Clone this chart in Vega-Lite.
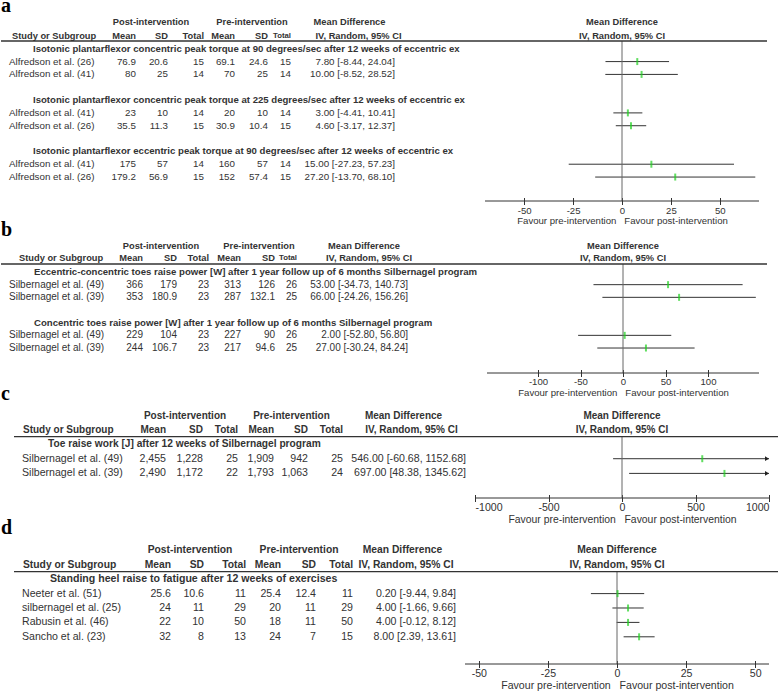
{
"$schema": "https://vega.github.io/schema/vega-lite/v6.json",
"padding": {"top": -4, "left": 0, "right": 0, "bottom": 0},
"background": "white",
"spacing": 0,
"bounds": "flush",
"datasets": {
"a": [
{"row":1,"study":"Alfredson et al. (26)","pm":76.9,"psd":20.6,"pt":15,"rm":69.1,"rsd":24.6,"rt":15,"md":7.8,"lo":-8.44,"hi":24.04,"ci":"7.80 [-8.44, 24.04]"},
{"row":2,"study":"Alfredson et al. (41)","pm":80,"psd":25,"pt":14,"rm":70,"rsd":25,"rt":14,"md":10,"lo":-8.52,"hi":28.52,"ci":"10.00 [-8.52, 28.52]"},
{"row":5,"study":"Alfredson et al. (41)","pm":23,"psd":10,"pt":14,"rm":20,"rsd":10,"rt":14,"md":3,"lo":-4.41,"hi":10.41,"ci":"3.00 [-4.41, 10.41]"},
{"row":6,"study":"Alfredson et al. (26)","pm":35.5,"psd":11.3,"pt":15,"rm":30.9,"rsd":10.4,"rt":15,"md":4.6,"lo":-3.17,"hi":12.37,"ci":"4.60 [-3.17, 12.37]"},
{"row":9,"study":"Alfredson et al. (41)","pm":175,"psd":57,"pt":14,"rm":160,"rsd":57,"rt":14,"md":15,"lo":-27.23,"hi":57.23,"ci":"15.00 [-27.23, 57.23]"},
{"row":10,"study":"Alfredson et al. (26)","pm":179.2,"psd":56.9,"pt":15,"rm":152,"rsd":57.4,"rt":15,"md":27.2,"lo":-13.7,"hi":68.1,"ci":"27.20 [-13.70, 68.10]"}
],
"a_sub": [
{"row":0,"title":"Isotonic plantarflexor concentric peak torque at 90 degrees/sec after 12 weeks of eccentric ex"},
{"row":4,"title":"Isotonic plantarflexor concentric peak torque at 225 degrees/sec after 12 weeks of eccentric ex"},
{"row":8,"title":"Isotonic plantarflexor eccentric peak torque at 90 degrees/sec after 12 weeks of eccentric ex"}
],
"b": [
{"row":1,"study":"Silbernagel et al. (49)","pm":366,"psd":179,"pt":23,"rm":313,"rsd":126,"rt":26,"md":53,"lo":-34.73,"hi":140.73,"ci":"53.00 [-34.73, 140.73]"},
{"row":2,"study":"Silbernagel et al. (39)","pm":353,"psd":180.9,"pt":23,"rm":287,"rsd":132.1,"rt":25,"md":66,"lo":-24.26,"hi":156.26,"ci":"66.00 [-24.26, 156.26]"},
{"row":5,"study":"Silbernagel et al. (49)","pm":229,"psd":104,"pt":23,"rm":227,"rsd":90,"rt":26,"md":2,"lo":-52.8,"hi":56.8,"ci":"2.00 [-52.80, 56.80]"},
{"row":6,"study":"Silbernagel et al. (39)","pm":244,"psd":106.7,"pt":23,"rm":217,"rsd":94.6,"rt":25,"md":27,"lo":-30.24,"hi":84.24,"ci":"27.00 [-30.24, 84.24]"}
],
"b_sub": [
{"row":0,"title":"Eccentric-concentric toes raise power [W] after 1 year follow up of 6 months Silbernagel program"},
{"row":4,"title":"Concentric toes raise power [W] after 1 year follow up of 6 months Silbernagel program"}
],
"c": [
{"row":1,"study":"Silbernagel et al. (49)","pm":2455,"psd":1228,"pt":25,"rm":1909,"rsd":942,"rt":25,"md":546,"lo":-60.68,"hi":1152.68,"ci":"546.00 [-60.68, 1152.68]"},
{"row":2,"study":"Silbernagel et al. (39)","pm":2490,"psd":1172,"pt":22,"rm":1793,"rsd":1063,"rt":24,"md":697,"lo":48.38,"hi":1345.62,"ci":"697.00 [48.38, 1345.62]"}
],
"c_sub": [
{"row":0,"title":"Toe raise work [J] after 12 weeks of Silbernagel program"}
],
"d": [
{"row":1,"study":"Neeter et al. (51)","pm":25.6,"psd":10.6,"pt":11,"rm":25.4,"rsd":12.4,"rt":11,"md":0.2,"lo":-9.44,"hi":9.84,"ci":"0.20 [-9.44, 9.84]"},
{"row":2,"study":"silbernagel et al. (25)","pm":24,"psd":11,"pt":29,"rm":20,"rsd":11,"rt":29,"md":4,"lo":-1.66,"hi":9.66,"ci":"4.00 [-1.66, 9.66]"},
{"row":3,"study":"Rabusin et al. (46)","pm":22,"psd":10,"pt":50,"rm":18,"rsd":11,"rt":50,"md":4,"lo":-0.12,"hi":8.12,"ci":"4.00 [-0.12, 8.12]"},
{"row":4,"study":"Sancho et al. (23)","pm":32,"psd":8,"pt":13,"rm":24,"rsd":7,"rt":15,"md":8,"lo":2.39,"hi":13.61,"ci":"8.00 [2.39, 13.61]"}
],
"d_sub": [
{"row":0,"title":"Standing heel raise to fatigue after 12 weeks of exercises"}
],
"colhdr": [
{"c":2,"t":"Mean"},{"c":3,"t":"SD"},{"c":4,"t":"Total"},{"c":5,"t":"Mean"},{"c":6,"t":"SD"},{"c":7,"t":"Total"}
]
},
"vconcat": [
{
"width": 778, "height": 201,
"data": {"name":"a"},
"resolve": {"scale":{"x":"independent"}},
"layer": [
{"layer": [
{"mark":{"type":"rule","color":"#333"},"encoding":{"x":{"field":"lo","type":"quantitative","scale":{"domain":[-70,70],"range":[484,758],"nice":false,"zero":false},"axis":{"orient":"bottom","values":[-50,-25,0,25,50],"labelExpr":"datum.value < 0 ? '-' + (-datum.value) : '' + datum.value","domain":false,"grid":false,"tickSize":7,"offset":-3.5,"tickColor":"#333","labelColor":"#333","titleColor":"#333","labelFont":"Liberation Sans","titleFont":"Liberation Sans","titleFontWeight":"normal","labelFontSize":9.6,"titleFontSize":9.6,"labelPadding":0.6,"titlePadding":1,"title":"Favour pre-intervention\u00a0\u00a0\u00a0Favour post-intervention"}},"x2":{"field":"hi"},"y":{"field":"row","type":"quantitative","scale":{"domain":[-3.8,11.867],"reverse":true,"nice":false,"zero":false},"axis":null}}},
{"data":{"values":[{}]},"mark":{"type":"rule","color":"#666"},"encoding":{"x":{"datum":0,"type":"quantitative"},"y":{"datum":-0.604,"type":"quantitative","axis":null},"y2":{"datum":11.867}}},
{"data":{"values":[{}]},"mark":{"type":"rule","color":"#333"},"encoding":{"x":{"datum":-70,"type":"quantitative"},"x2":{"datum":70},"y":{"datum":11.867,"type":"quantitative","axis":null}}},
{"mark":{"type":"tick","orient":"vertical","color":"#1fd01f","thickness":2,"size":7},"encoding":{"x":{"field":"md","type":"quantitative"},"y":{"field":"row","type":"quantitative","axis":null}}},
{"data":{"values":[{}]},"mark":{"type":"text","text":"Mean Difference","align":"center","fontSize":9.3,"fontWeight":"bold"},"encoding":{"x":{"datum":0,"type":"quantitative"},"y":{"datum":-2.085,"type":"quantitative","axis":null}}},
{"data":{"values":[{}]},"mark":{"type":"text","text":"IV, Random, 95% CI","align":"center","fontSize":9.3,"fontWeight":"bold"},"encoding":{"x":{"datum":0,"type":"quantitative"},"y":{"datum":-0.994,"type":"quantitative","axis":null}}}
]},
{"layer": [
{"data":{"values":[{}]},"mark":{"type":"rule","color":"#333","strokeWidth":1.3},"encoding":{"x":{"datum":0,"type":"quantitative","scale":{"domain":[0,1,2,3,4,5,6,7,8,9],"range":[0,8,135,167,203,234,267,290,394,766],"nice":false,"zero":false},"axis":null},"x2":{"datum":9},"y":{"datum":-0.604,"type":"quantitative","axis":null}}},
{"data":{"values":[{}]},"mark":{"type":"text","text":"a","align":"left","baseline":"alphabetic","font":"Liberation Serif","fontSize":20,"fontWeight":"bold","color":"#000"},"encoding":{"x":{"datum":0,"type":"quantitative","axis":null},"y":{"datum":-2.864,"type":"quantitative","axis":null}}},
{"data":{"values":[{}]},"mark":{"type":"text","text":"Post-intervention","align":"center","dx":-17,"fontSize":9.3,"fontWeight":"bold"},"encoding":{"x":{"datum":3,"type":"quantitative","axis":null},"y":{"datum":-2.085,"type":"quantitative","axis":null}}},
{"data":{"values":[{}]},"mark":{"type":"text","text":"Pre-intervention","align":"center","dx":-16,"fontSize":9.3,"fontWeight":"bold"},"encoding":{"x":{"datum":6,"type":"quantitative","axis":null},"y":{"datum":-2.085,"type":"quantitative","axis":null}}},
{"data":{"values":[{}]},"mark":{"type":"text","text":"Mean Difference","align":"center","dx":-45.5,"fontSize":9.3,"fontWeight":"bold"},"encoding":{"x":{"datum":8,"type":"quantitative","axis":null},"y":{"datum":-2.085,"type":"quantitative","axis":null}}},
{"data":{"values":[{}]},"mark":{"type":"text","text":"Study or Subgroup","align":"left","dx":3,"fontSize":9.3,"fontWeight":"bold"},"encoding":{"x":{"datum":1,"type":"quantitative","axis":null},"y":{"datum":-0.994,"type":"quantitative","axis":null}}},
{"data":{"name":"colhdr"},"transform":[{"filter":"datum.c != 7"}],"mark":{"type":"text","align":"right","fontSize":9.3,"fontWeight":"bold"},"encoding":{"x":{"field":"c","type":"quantitative","axis":null},"y":{"datum":-0.994,"type":"quantitative","axis":null},"text":{"field":"t"}}},
{"data":{"name":"colhdr"},"transform":[{"filter":"datum.c == 7"}],"mark":{"type":"text","align":"right","fontSize":7.8,"fontWeight":"bold"},"encoding":{"x":{"field":"c","type":"quantitative","axis":null},"y":{"datum":-0.994,"type":"quantitative","axis":null},"text":{"field":"t"}}},
{"data":{"values":[{}]},"mark":{"type":"text","text":"IV, Random, 95% CI","align":"center","dx":-36.5,"fontSize":9.3,"fontWeight":"bold"},"encoding":{"x":{"datum":8,"type":"quantitative","axis":null},"y":{"datum":-0.994,"type":"quantitative","axis":null}}},
{"data":{"name":"a_sub"},"mark":{"type":"text","align":"left","dx":24,"fontSize":9.6,"fontWeight":"bold"},"encoding":{"x":{"datum":1,"type":"quantitative","axis":null},"y":{"field":"row","type":"quantitative","axis":null},"text":{"field":"title"}}},
{"mark":{"type":"text","align":"left","fontSize":9.8},"encoding":{"x":{"datum":1,"type":"quantitative","axis":null},"y":{"field":"row","type":"quantitative","axis":null},"text":{"field":"study"}}},
{"mark":{"type":"text","align":"right","fontSize":9.8},"encoding":{"x":{"datum":2,"type":"quantitative","axis":null},"y":{"field":"row","type":"quantitative","axis":null},"text":{"field":"pm","type":"quantitative","format":",~f"}}},
{"mark":{"type":"text","align":"right","fontSize":9.8},"encoding":{"x":{"datum":3,"type":"quantitative","axis":null},"y":{"field":"row","type":"quantitative","axis":null},"text":{"field":"psd","type":"quantitative","format":",~f"}}},
{"mark":{"type":"text","align":"right","fontSize":9.8},"encoding":{"x":{"datum":4,"type":"quantitative","axis":null},"y":{"field":"row","type":"quantitative","axis":null},"text":{"field":"pt","type":"quantitative","format":",~f"}}},
{"mark":{"type":"text","align":"right","fontSize":9.8},"encoding":{"x":{"datum":5,"type":"quantitative","axis":null},"y":{"field":"row","type":"quantitative","axis":null},"text":{"field":"rm","type":"quantitative","format":",~f"}}},
{"mark":{"type":"text","align":"right","fontSize":9.8},"encoding":{"x":{"datum":6,"type":"quantitative","axis":null},"y":{"field":"row","type":"quantitative","axis":null},"text":{"field":"rsd","type":"quantitative","format":",~f"}}},
{"mark":{"type":"text","align":"right","fontSize":9.8},"encoding":{"x":{"datum":7,"type":"quantitative","axis":null},"y":{"field":"row","type":"quantitative","axis":null},"text":{"field":"rt","type":"quantitative","format":",~f"}}},
{"mark":{"type":"text","align":"right","fontSize":9.8},"encoding":{"x":{"datum":8,"type":"quantitative","axis":null},"y":{"field":"row","type":"quantitative","axis":null},"text":{"field":"ci"}}}
]}
]
},
{
"width": 778, "height": 172,
"data": {"name":"b"},
"resolve": {"scale":{"x":"independent"}},
"layer": [
{"layer": [
{"mark":{"type":"rule","color":"#333"},"encoding":{"x":{"field":"lo","type":"quantitative","scale":{"domain":[-160,160],"range":[486,758],"nice":false,"zero":false},"axis":{"orient":"bottom","values":[-100,-50,0,50,100],"labelExpr":"datum.value < 0 ? '-' + (-datum.value) : '' + datum.value","domain":false,"grid":false,"tickSize":7,"offset":-3.5,"tickColor":"#333","labelColor":"#333","titleColor":"#333","labelFont":"Liberation Sans","titleFont":"Liberation Sans","titleFontWeight":"normal","labelFontSize":9.6,"titleFontSize":9.6,"labelPadding":0.4,"titlePadding":1,"title":"Favour pre-intervention\u00a0\u00a0\u00a0Favour post-intervention"}},"x2":{"field":"hi"},"y":{"field":"row","type":"quantitative","scale":{"domain":[-5.604,7.972],"reverse":true,"nice":false,"zero":false},"axis":null}}},
{"data":{"values":[{}]},"mark":{"type":"rule","color":"#666"},"encoding":{"x":{"datum":0,"type":"quantitative"},"y":{"datum":-0.631,"type":"quantitative","axis":null},"y2":{"datum":7.972}}},
{"data":{"values":[{}]},"mark":{"type":"rule","color":"#333"},"encoding":{"x":{"datum":-160,"type":"quantitative"},"x2":{"datum":160},"y":{"datum":7.972,"type":"quantitative","axis":null}}},
{"mark":{"type":"tick","orient":"vertical","color":"#1fd01f","thickness":2,"size":7},"encoding":{"x":{"field":"md","type":"quantitative"},"y":{"field":"row","type":"quantitative","axis":null}}},
{"data":{"values":[{}]},"mark":{"type":"text","text":"Mean Difference","align":"center","fontSize":9.3,"fontWeight":"bold"},"encoding":{"x":{"datum":0,"type":"quantitative"},"y":{"datum":-2.076,"type":"quantitative","axis":null}}},
{"data":{"values":[{}]},"mark":{"type":"text","text":"IV, Random, 95% CI","align":"center","fontSize":9.3,"fontWeight":"bold"},"encoding":{"x":{"datum":0,"type":"quantitative"},"y":{"datum":-1.081,"type":"quantitative","axis":null}}}
]},
{"layer": [
{"data":{"values":[{}]},"mark":{"type":"rule","color":"#333","strokeWidth":1.3},"encoding":{"x":{"datum":0,"type":"quantitative","scale":{"domain":[0,1,2,3,4,5,6,7,8,9],"range":[0,8,142,176,208,240,274,296,407,766],"nice":false,"zero":false},"axis":null},"x2":{"datum":9},"y":{"datum":-0.631,"type":"quantitative","axis":null}}},
{"data":{"values":[{}]},"mark":{"type":"text","text":"b","align":"left","baseline":"alphabetic","font":"Liberation Serif","fontSize":20,"fontWeight":"bold","color":"#000"},"encoding":{"x":{"datum":0,"type":"quantitative","axis":null},"y":{"datum":-2.841,"type":"quantitative","axis":null}}},
{"data":{"values":[{}]},"mark":{"type":"text","text":"Post-intervention","align":"center","dx":-16,"fontSize":9.3,"fontWeight":"bold"},"encoding":{"x":{"datum":3,"type":"quantitative","axis":null},"y":{"datum":-2.076,"type":"quantitative","axis":null}}},
{"data":{"values":[{}]},"mark":{"type":"text","text":"Pre-intervention","align":"center","dx":-16,"fontSize":9.3,"fontWeight":"bold"},"encoding":{"x":{"datum":6,"type":"quantitative","axis":null},"y":{"datum":-2.076,"type":"quantitative","axis":null}}},
{"data":{"values":[{}]},"mark":{"type":"text","text":"Mean Difference","align":"center","dx":-44,"fontSize":9.3,"fontWeight":"bold"},"encoding":{"x":{"datum":8,"type":"quantitative","axis":null},"y":{"datum":-2.076,"type":"quantitative","axis":null}}},
{"data":{"values":[{}]},"mark":{"type":"text","text":"Study or Subgroup","align":"left","dx":10,"fontSize":9.3,"fontWeight":"bold"},"encoding":{"x":{"datum":1,"type":"quantitative","axis":null},"y":{"datum":-1.081,"type":"quantitative","axis":null}}},
{"data":{"name":"colhdr"},"transform":[{"filter":"datum.c != 7"}],"mark":{"type":"text","align":"right","fontSize":9.3,"fontWeight":"bold"},"encoding":{"x":{"field":"c","type":"quantitative","axis":null},"y":{"datum":-1.081,"type":"quantitative","axis":null},"text":{"field":"t"}}},
{"data":{"name":"colhdr"},"transform":[{"filter":"datum.c == 7"}],"mark":{"type":"text","align":"right","fontSize":7.8,"fontWeight":"bold"},"encoding":{"x":{"field":"c","type":"quantitative","axis":null},"y":{"datum":-1.081,"type":"quantitative","axis":null},"text":{"field":"t"}}},
{"data":{"values":[{}]},"mark":{"type":"text","text":"IV, Random, 95% CI","align":"center","dx":-39,"fontSize":9.3,"fontWeight":"bold"},"encoding":{"x":{"datum":8,"type":"quantitative","axis":null},"y":{"datum":-1.081,"type":"quantitative","axis":null}}},
{"data":{"name":"b_sub"},"mark":{"type":"text","align":"left","dx":25,"fontSize":9.6,"fontWeight":"bold"},"encoding":{"x":{"datum":1,"type":"quantitative","axis":null},"y":{"field":"row","type":"quantitative","axis":null},"text":{"field":"title"}}},
{"mark":{"type":"text","align":"left","fontSize":10},"encoding":{"x":{"datum":1,"type":"quantitative","axis":null},"y":{"field":"row","type":"quantitative","axis":null},"text":{"field":"study"}}},
{"mark":{"type":"text","align":"right","fontSize":10},"encoding":{"x":{"datum":2,"type":"quantitative","axis":null},"y":{"field":"row","type":"quantitative","axis":null},"text":{"field":"pm","type":"quantitative","format":",~f"}}},
{"mark":{"type":"text","align":"right","fontSize":10},"encoding":{"x":{"datum":3,"type":"quantitative","axis":null},"y":{"field":"row","type":"quantitative","axis":null},"text":{"field":"psd","type":"quantitative","format":",~f"}}},
{"mark":{"type":"text","align":"right","fontSize":10},"encoding":{"x":{"datum":4,"type":"quantitative","axis":null},"y":{"field":"row","type":"quantitative","axis":null},"text":{"field":"pt","type":"quantitative","format":",~f"}}},
{"mark":{"type":"text","align":"right","fontSize":10},"encoding":{"x":{"datum":5,"type":"quantitative","axis":null},"y":{"field":"row","type":"quantitative","axis":null},"text":{"field":"rm","type":"quantitative","format":",~f"}}},
{"mark":{"type":"text","align":"right","fontSize":10},"encoding":{"x":{"datum":6,"type":"quantitative","axis":null},"y":{"field":"row","type":"quantitative","axis":null},"text":{"field":"rsd","type":"quantitative","format":",~f"}}},
{"mark":{"type":"text","align":"right","fontSize":10},"encoding":{"x":{"datum":7,"type":"quantitative","axis":null},"y":{"field":"row","type":"quantitative","axis":null},"text":{"field":"rt","type":"quantitative","format":",~f"}}},
{"mark":{"type":"text","align":"right","fontSize":10},"encoding":{"x":{"datum":8,"type":"quantitative","axis":null},"y":{"field":"row","type":"quantitative","axis":null},"text":{"field":"ci"}}}
]}
]
},
{
"width": 778, "height": 125,
"data": {"name":"c"},
"resolve": {"scale":{"x":"independent"}},
"layer": [
{"layer": [
{"mark":{"type":"rule","color":"#333"},"encoding":{"x":{"field":"lo","type":"quantitative","scale":{"domain":[-1000,1000],"range":[474,768],"nice":false,"zero":false,"clamp":true},"axis":{"orient":"bottom","values":[-1000,-500,0,500,1000],"labelExpr":"datum.value < 0 ? '-' + (-datum.value) : '' + datum.value","domain":false,"grid":false,"tickSize":7,"offset":-3.5,"tickColor":"#333","labelColor":"#333","titleColor":"#333","labelFont":"Liberation Sans","titleFont":"Liberation Sans","titleFontWeight":"normal","labelFontSize":10.6,"titleFontSize":10.4,"labelPadding":0.9,"titlePadding":1,"title":"Favour pre-intervention\u00a0\u00a0\u00a0Favour post-intervention"}},"x2":{"field":"hi"},"y":{"field":"row","type":"quantitative","scale":{"domain":[-4.83,3.673],"reverse":true,"nice":false,"zero":false},"axis":null}}},
{"data":{"values":[{}]},"mark":{"type":"rule","color":"#666"},"encoding":{"x":{"datum":0,"type":"quantitative"},"y":{"datum":-0.497,"type":"quantitative","axis":null},"y2":{"datum":3.673}}},
{"data":{"values":[{}]},"mark":{"type":"rule","color":"#333"},"encoding":{"x":{"datum":-1000,"type":"quantitative"},"x2":{"datum":1000},"y":{"datum":3.673,"type":"quantitative","axis":null}}},
{"transform":[{"filter":"datum.hi > 1000"}],"mark":{"type":"point","shape":"M-1,-0.6L0,0L-1,0.6Z","filled":true,"color":"#222","opacity":1,"size":64},"encoding":{"x":{"field":"hi","type":"quantitative"},"y":{"field":"row","type":"quantitative","axis":null}}},
{"mark":{"type":"tick","orient":"vertical","color":"#1fd01f","thickness":2,"size":7},"encoding":{"x":{"field":"md","type":"quantitative"},"y":{"field":"row","type":"quantitative","axis":null}}},
{"data":{"values":[{}]},"mark":{"type":"text","text":"Mean Difference","align":"center","fontSize":10,"fontWeight":"bold"},"encoding":{"x":{"datum":0,"type":"quantitative"},"y":{"datum":-1.905,"type":"quantitative","axis":null}}},
{"data":{"values":[{}]},"mark":{"type":"text","text":"IV, Random, 95% CI","align":"center","fontSize":10,"fontWeight":"bold"},"encoding":{"x":{"datum":0,"type":"quantitative"},"y":{"datum":-0.952,"type":"quantitative","axis":null}}}
]},
{"layer": [
{"data":{"values":[{}]},"mark":{"type":"rule","color":"#333","strokeWidth":1.3},"encoding":{"x":{"datum":0,"type":"quantitative","scale":{"domain":[0,1,2,3,4,5,6,7,8,9],"range":[13,21,165,202,237,273,307,342,465,778],"nice":false,"zero":false},"axis":null},"x2":{"datum":9},"y":{"datum":-0.497,"type":"quantitative","axis":null}}},
{"data":{"values":[{}]},"mark":{"type":"text","text":"c","align":"left","dx":-13,"baseline":"alphabetic","font":"Liberation Serif","fontSize":20,"fontWeight":"bold","color":"#000"},"encoding":{"x":{"datum":0,"type":"quantitative","axis":null},"y":{"datum":-2.993,"type":"quantitative","axis":null}}},
{"data":{"values":[{}]},"mark":{"type":"text","text":"Post-intervention","align":"center","dx":-18,"fontSize":10,"fontWeight":"bold"},"encoding":{"x":{"datum":3,"type":"quantitative","axis":null},"y":{"datum":-1.905,"type":"quantitative","axis":null}}},
{"data":{"values":[{}]},"mark":{"type":"text","text":"Pre-intervention","align":"center","dx":-16.5,"fontSize":10,"fontWeight":"bold"},"encoding":{"x":{"datum":6,"type":"quantitative","axis":null},"y":{"datum":-1.905,"type":"quantitative","axis":null}}},
{"data":{"values":[{}]},"mark":{"type":"text","text":"Mean Difference","align":"center","dx":-62.5,"fontSize":10,"fontWeight":"bold"},"encoding":{"x":{"datum":8,"type":"quantitative","axis":null},"y":{"datum":-1.905,"type":"quantitative","axis":null}}},
{"data":{"values":[{}]},"mark":{"type":"text","text":"Study or Subgroup","align":"left","dx":1,"fontSize":10,"fontWeight":"bold"},"encoding":{"x":{"datum":1,"type":"quantitative","axis":null},"y":{"datum":-0.952,"type":"quantitative","axis":null}}},
{"data":{"name":"colhdr"},"mark":{"type":"text","align":"right","fontSize":10,"fontWeight":"bold"},"encoding":{"x":{"field":"c","type":"quantitative","axis":null},"y":{"datum":-0.952,"type":"quantitative","axis":null},"text":{"field":"t"}}},
{"data":{"values":[{}]},"mark":{"type":"text","text":"IV, Random, 95% CI","align":"center","dx":-54.5,"fontSize":10,"fontWeight":"bold"},"encoding":{"x":{"datum":8,"type":"quantitative","axis":null},"y":{"datum":-0.952,"type":"quantitative","axis":null}}},
{"data":{"name":"c_sub"},"mark":{"type":"text","align":"left","dx":26,"fontSize":10.2,"fontWeight":"bold"},"encoding":{"x":{"datum":1,"type":"quantitative","axis":null},"y":{"field":"row","type":"quantitative","axis":null},"text":{"field":"title"}}},
{"mark":{"type":"text","align":"left","fontSize":10.6},"encoding":{"x":{"datum":1,"type":"quantitative","axis":null},"y":{"field":"row","type":"quantitative","axis":null},"text":{"field":"study"}}},
{"mark":{"type":"text","align":"right","fontSize":10.6},"encoding":{"x":{"datum":2,"type":"quantitative","axis":null},"y":{"field":"row","type":"quantitative","axis":null},"text":{"field":"pm","type":"quantitative","format":",~f"}}},
{"mark":{"type":"text","align":"right","fontSize":10.6},"encoding":{"x":{"datum":3,"type":"quantitative","axis":null},"y":{"field":"row","type":"quantitative","axis":null},"text":{"field":"psd","type":"quantitative","format":",~f"}}},
{"mark":{"type":"text","align":"right","fontSize":10.6},"encoding":{"x":{"datum":4,"type":"quantitative","axis":null},"y":{"field":"row","type":"quantitative","axis":null},"text":{"field":"pt","type":"quantitative","format":",~f"}}},
{"mark":{"type":"text","align":"right","fontSize":10.6},"encoding":{"x":{"datum":5,"type":"quantitative","axis":null},"y":{"field":"row","type":"quantitative","axis":null},"text":{"field":"rm","type":"quantitative","format":",~f"}}},
{"mark":{"type":"text","align":"right","fontSize":10.6},"encoding":{"x":{"datum":6,"type":"quantitative","axis":null},"y":{"field":"row","type":"quantitative","axis":null},"text":{"field":"rsd","type":"quantitative","format":",~f"}}},
{"mark":{"type":"text","align":"right","fontSize":10.6},"encoding":{"x":{"datum":7,"type":"quantitative","axis":null},"y":{"field":"row","type":"quantitative","axis":null},"text":{"field":"rt","type":"quantitative","format":",~f"}}},
{"mark":{"type":"text","align":"right","fontSize":10.6},"encoding":{"x":{"datum":8,"type":"quantitative","axis":null},"y":{"field":"row","type":"quantitative","axis":null},"text":{"field":"ci"}}}
]}
]
},
{
"width": 778, "height": 166,
"data": {"name":"d"},
"resolve": {"scale":{"x":"independent"}},
"layer": [
{"layer": [
{"mark":{"type":"rule","color":"#333"},"encoding":{"x":{"field":"lo","type":"quantitative","scale":{"domain":[-55,55],"range":[464,768],"nice":false,"zero":false},"axis":{"orient":"bottom","values":[-50,-25,0,25,50],"labelExpr":"datum.value < 0 ? '-' + (-datum.value) : '' + datum.value","domain":false,"grid":false,"tickSize":7,"offset":-3.5,"tickColor":"#333","labelColor":"#333","titleColor":"#333","labelFont":"Liberation Sans","titleFont":"Liberation Sans","titleFontWeight":"normal","labelFontSize":10.6,"titleFontSize":10.6,"labelPadding":0.9,"titlePadding":1.8,"title":"Favour pre-intervention\u00a0\u00a0\u00a0Favour post-intervention"}},"x2":{"field":"hi"},"y":{"field":"row","type":"quantitative","scale":{"domain":[-5.639,5.889],"reverse":true,"nice":false,"zero":false},"axis":null}}},
{"data":{"values":[{}]},"mark":{"type":"rule","color":"#666"},"encoding":{"x":{"datum":0,"type":"quantitative"},"y":{"datum":-0.521,"type":"quantitative","axis":null},"y2":{"datum":5.889}}},
{"data":{"values":[{}]},"mark":{"type":"rule","color":"#333"},"encoding":{"x":{"datum":-55,"type":"quantitative"},"x2":{"datum":55},"y":{"datum":5.889,"type":"quantitative","axis":null}}},
{"mark":{"type":"tick","orient":"vertical","color":"#1fd01f","thickness":2,"size":7},"encoding":{"x":{"field":"md","type":"quantitative"},"y":{"field":"row","type":"quantitative","axis":null}}},
{"data":{"values":[{}]},"mark":{"type":"text","text":"Mean Difference","align":"center","fontSize":10.3,"fontWeight":"bold"},"encoding":{"x":{"datum":0,"type":"quantitative"},"y":{"datum":-2.028,"type":"quantitative","axis":null}}},
{"data":{"values":[{}]},"mark":{"type":"text","text":"IV, Random, 95% CI","align":"center","fontSize":10.3,"fontWeight":"bold"},"encoding":{"x":{"datum":0,"type":"quantitative"},"y":{"datum":-0.986,"type":"quantitative","axis":null}}}
]},
{"layer": [
{"data":{"values":[{}]},"mark":{"type":"rule","color":"#333","strokeWidth":1.3},"encoding":{"x":{"datum":0,"type":"quantitative","scale":{"domain":[0,1,2,3,4,5,6,7,8,9],"range":[13,21,170,203,245,280,315,352,455,778],"nice":false,"zero":false},"axis":null},"x2":{"datum":9},"y":{"datum":-0.521,"type":"quantitative","axis":null}}},
{"data":{"values":[{}]},"mark":{"type":"text","text":"d","align":"left","dx":-13,"baseline":"alphabetic","font":"Liberation Serif","fontSize":20,"fontWeight":"bold","color":"#000"},"encoding":{"x":{"datum":0,"type":"quantitative","axis":null},"y":{"datum":-3.139,"type":"quantitative","axis":null}}},
{"data":{"values":[{}]},"mark":{"type":"text","text":"Post-intervention","align":"center","dx":-14,"fontSize":10.3,"fontWeight":"bold"},"encoding":{"x":{"datum":3,"type":"quantitative","axis":null},"y":{"datum":-2.028,"type":"quantitative","axis":null}}},
{"data":{"values":[{}]},"mark":{"type":"text","text":"Pre-intervention","align":"center","dx":-17,"fontSize":10.3,"fontWeight":"bold"},"encoding":{"x":{"datum":6,"type":"quantitative","axis":null},"y":{"datum":-2.028,"type":"quantitative","axis":null}}},
{"data":{"values":[{}]},"mark":{"type":"text","text":"Mean Difference","align":"center","dx":-53.5,"fontSize":10.3,"fontWeight":"bold"},"encoding":{"x":{"datum":8,"type":"quantitative","axis":null},"y":{"datum":-2.028,"type":"quantitative","axis":null}}},
{"data":{"values":[{}]},"mark":{"type":"text","text":"Study or Subgroup","align":"left","dx":1,"fontSize":10.3,"fontWeight":"bold"},"encoding":{"x":{"datum":1,"type":"quantitative","axis":null},"y":{"datum":-0.986,"type":"quantitative","axis":null}}},
{"data":{"name":"colhdr"},"mark":{"type":"text","align":"right","fontSize":10.3,"fontWeight":"bold"},"encoding":{"x":{"field":"c","type":"quantitative","axis":null},"y":{"datum":-0.986,"type":"quantitative","axis":null},"text":{"field":"t"}}},
{"data":{"values":[{}]},"mark":{"type":"text","text":"IV, Random, 95% CI","align":"center","dx":-50,"fontSize":10.3,"fontWeight":"bold"},"encoding":{"x":{"datum":8,"type":"quantitative","axis":null},"y":{"datum":-0.986,"type":"quantitative","axis":null}}},
{"data":{"name":"d_sub"},"mark":{"type":"text","align":"left","dx":28,"fontSize":10.6,"fontWeight":"bold"},"encoding":{"x":{"datum":1,"type":"quantitative","axis":null},"y":{"field":"row","type":"quantitative","axis":null},"text":{"field":"title"}}},
{"mark":{"type":"text","align":"left","fontSize":10.6},"encoding":{"x":{"datum":1,"type":"quantitative","axis":null},"y":{"field":"row","type":"quantitative","axis":null},"text":{"field":"study"}}},
{"mark":{"type":"text","align":"right","fontSize":10.6},"encoding":{"x":{"datum":2,"type":"quantitative","axis":null},"y":{"field":"row","type":"quantitative","axis":null},"text":{"field":"pm","type":"quantitative","format":",~f"}}},
{"mark":{"type":"text","align":"right","fontSize":10.6},"encoding":{"x":{"datum":3,"type":"quantitative","axis":null},"y":{"field":"row","type":"quantitative","axis":null},"text":{"field":"psd","type":"quantitative","format":",~f"}}},
{"mark":{"type":"text","align":"right","fontSize":10.6},"encoding":{"x":{"datum":4,"type":"quantitative","axis":null},"y":{"field":"row","type":"quantitative","axis":null},"text":{"field":"pt","type":"quantitative","format":",~f"}}},
{"mark":{"type":"text","align":"right","fontSize":10.6},"encoding":{"x":{"datum":5,"type":"quantitative","axis":null},"y":{"field":"row","type":"quantitative","axis":null},"text":{"field":"rm","type":"quantitative","format":",~f"}}},
{"mark":{"type":"text","align":"right","fontSize":10.6},"encoding":{"x":{"datum":6,"type":"quantitative","axis":null},"y":{"field":"row","type":"quantitative","axis":null},"text":{"field":"rsd","type":"quantitative","format":",~f"}}},
{"mark":{"type":"text","align":"right","fontSize":10.6},"encoding":{"x":{"datum":7,"type":"quantitative","axis":null},"y":{"field":"row","type":"quantitative","axis":null},"text":{"field":"rt","type":"quantitative","format":",~f"}}},
{"mark":{"type":"text","align":"right","fontSize":10.6},"encoding":{"x":{"datum":8,"type":"quantitative","axis":null},"y":{"field":"row","type":"quantitative","axis":null},"text":{"field":"ci"}}}
]}
]
}
],
"config": {
"view": {"stroke": null},
"text": {"font": "Liberation Sans", "baseline": "middle", "color": "#333"}
}
}
